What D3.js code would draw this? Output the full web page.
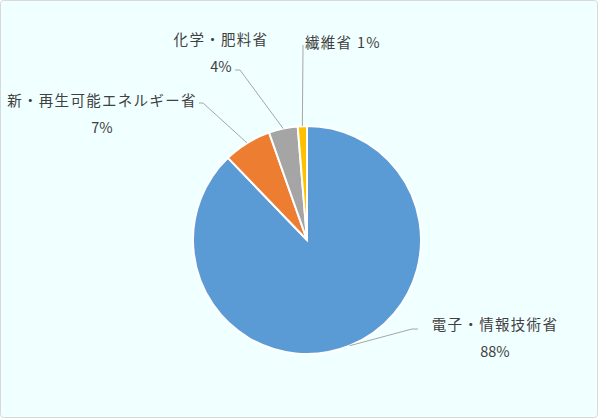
<!DOCTYPE html>
<html>
<head>
<meta charset="utf-8">
<script src="https://cdn.jsdelivr.net/npm/d3@7"></script>
<style>
  html, body { margin: 0; padding: 0; background: #fff; }
  svg { display: block; }
  text { font-family: "Noto Sans CJK JP", "Noto Sans", sans-serif; fill: #404040; }
</style>
</head>
<body>
<div id="chart"></div>
<script>
// data
var categories = ["電子・情報技術省", "新・再生可能エネルギー省", "化学・肥料省", "繊維省"];
var shares = [87.8, 6.8, 4.1, 1.3];
var pctLabels = ["88%", "7%", "4%", "1%"];
var colors = ["#5B9BD5", "#ED7D31", "#A5A5A5", "#FFC000"];

var width = 598, height = 418;
var cx = 307, cy = 240, radius = 114;

var svg = d3.select("#chart").append("svg")
  .attr("width", width)
  .attr("height", height);

// background + border
svg.append("rect")
  .attr("x", 0.5).attr("y", 0.5)
  .attr("width", width - 1).attr("height", height - 1)
  .attr("rx", 3)
  .style("fill", "#F0FFFF")
  .style("stroke", "#D9D9D9");

var pie = d3.pie().sort(null).value(function(d) { return d; });
var arcs = pie(shares);

var arc = d3.arc().innerRadius(0).outerRadius(radius);

var g = svg.append("g").attr("transform", "translate(" + cx + "," + cy + ")");

g.selectAll("path")
  .data(arcs)
  .enter()
  .append("path")
  .attr("d", arc)
  .style("fill", function(d, i) { return colors[i]; })
  .style("stroke", "#fff")
  .style("stroke-width", 2);

// label layout: leader elbow, leader end, text anchor point (relative to chart)
var layout = [
  { elbow: [412, 329], end: [418, 329], x: 495, y: 323, two: true },
  { elbow: [203, 103], end: [199, 103], x: 102, y: 99, two: true },
  { elbow: [240, 70], end: [235, 70], x: 221, y: 38, two: true },
  { elbow: [303, 47], end: [303, 45], x: 305, y: 41, two: false }
];

var midPoint = function(d) {
  var a = (d.startAngle + d.endAngle) / 2;
  return [cx + radius * Math.sin(a), cy - radius * Math.cos(a)];
};

arcs.forEach(function(d, i) {
  var L = layout[i];
  var p = midPoint(d);
  svg.append("polyline")
    .attr("points", [p, L.elbow, L.end].map(function(q) { return q.join(","); }).join(" "))
    .style("fill", "none")
    .style("stroke", "#A6A6A6")
    .style("stroke-width", 1);

  if (L.two) {
    svg.append("text")
      .attr("x", L.x).attr("y", L.y)
      .attr("text-anchor", "middle")
      .attr("dominant-baseline", "central")
      .style("font-size", "14.5px")
      .style("letter-spacing", "1.3px")
      .text(categories[i]);
    svg.append("text")
      .attr("x", L.x).attr("y", L.y + 27.5)
      .attr("text-anchor", "middle")
      .attr("dominant-baseline", "central")
      .style("font-size", "14.5px")
      .text(pctLabels[i]);
  } else {
    svg.append("text")
      .attr("x", L.x).attr("y", L.y)
      .attr("dominant-baseline", "central")
      .style("font-size", "14.5px")
      .style("letter-spacing", "1.3px")
      .text(categories[i] + " " + pctLabels[i]);
  }
});
</script>
</body>
</html>
